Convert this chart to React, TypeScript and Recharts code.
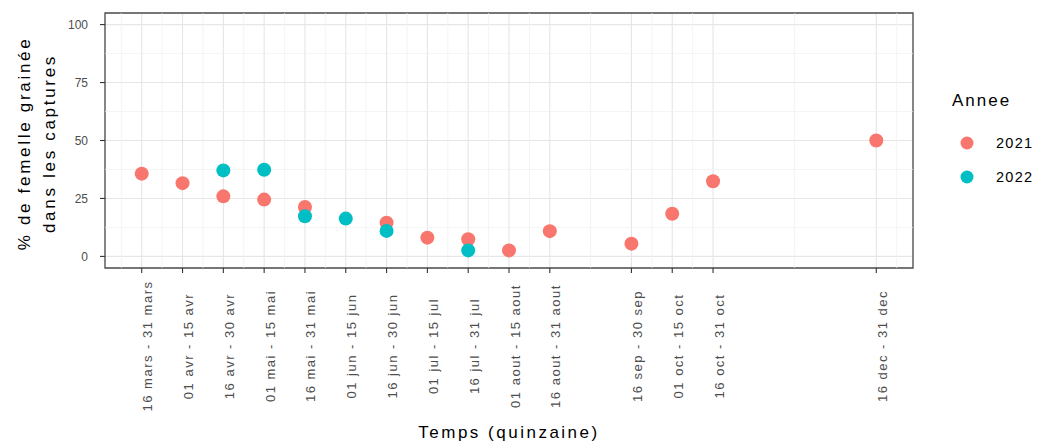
import React from 'react';
import {
  ScatterChart,
  Scatter,
  XAxis,
  YAxis,
  CartesianGrid,
  ReferenceLine,
  ReferenceArea,
  Legend,
  Label,
} from 'recharts';

// All fortnights of the season (x position = index in this list)
const fortnights = [
  '16 mars - 31 mars',
  '01 avr - 15 avr',
  '16 avr - 30 avr',
  '01 mai - 15 mai',
  '16 mai - 31 mai',
  '01 jun - 15 jun',
  '16 jun - 30 jun',
  '01 jul - 15 jul',
  '16 jul - 31 jul',
  '01 aout - 15 aout',
  '16 aout - 31 aout',
  '01 sep - 15 sep',
  '16 sep - 30 sep',
  '01 oct - 15 oct',
  '16 oct - 31 oct',
  '01 nov - 15 nov',
  '16 nov - 30 nov',
  '01 dec - 15 dec',
  '16 dec - 31 dec',
];

const periods2021 = [
  '16 mars - 31 mars',
  '01 avr - 15 avr',
  '16 avr - 30 avr',
  '01 mai - 15 mai',
  '16 mai - 31 mai',
  '16 jun - 30 jun',
  '01 jul - 15 jul',
  '16 jul - 31 jul',
  '01 aout - 15 aout',
  '16 aout - 31 aout',
  '16 sep - 30 sep',
  '01 oct - 15 oct',
  '16 oct - 31 oct',
  '16 dec - 31 dec',
];
const values2021 = [35.7, 31.6, 25.9, 24.5, 21.3, 14.5, 8.1, 7.4, 2.6, 10.9, 5.5, 18.4, 32.4, 50.0];

const periods2022 = [
  '16 avr - 30 avr',
  '01 mai - 15 mai',
  '16 mai - 31 mai',
  '01 jun - 15 jun',
  '16 jun - 30 jun',
  '16 jul - 31 jul',
];
const values2022 = [37.1, 37.4, 17.3, 16.3, 11.0, 2.6];

const years = ['2021', '2022'];
const yearColors = ['#F8766D', '#00BFC4'];

const yTicks = [0, 25, 50, 75, 100];
const yMinor = [12.5, 37.5, 62.5, 87.5];
const yDomain: [number, number] = [-5, 105];

const FONT = '"Liberation Sans", Arial, Helvetica, sans-serif';

const toPoints = (periods: string[], values: number[]) =>
  periods.map((p, i) => ({ x: fortnights.indexOf(p), y: values[i], label: p }));

const data2021 = toPoints(periods2021, values2021);
const data2022 = toPoints(periods2022, values2022);

const xTicks = Array.from(new Set([...data2021, ...data2022].map((d) => d.x))).sort((a, b) => a - b);
const xSpan = xTicks[xTicks.length - 1] - xTicks[0];
const xDomain: [number, number] = [xTicks[0] - 0.05 * xSpan, xTicks[xTicks.length - 1] + 0.05 * xSpan];

// ggplot-like minor breaks (midpoints between majors, extended by the first step)
const xMinor = (() => {
  const step = xTicks[1] - xTicks[0];
  const b = [xTicks[0] - step, ...xTicks, xTicks[xTicks.length - 1] + step];
  const m: number[] = [];
  for (let i = 0; i < b.length - 1; i++) m.push((b[i] + b[i + 1]) / 2);
  return m.filter((v) => v > xDomain[0] && v < xDomain[1]);
})();

const XTick = (props: any) => {
  const { x, y, payload } = props;
  const label = fortnights[payload.value] ?? '';
  return (
    <text
      transform={`translate(${x + 10.5},${y + 71}) rotate(-90)`}
      textAnchor="middle"
      fontFamily={FONT}
      fontSize={13}
      letterSpacing={1.5}
      fill="#4D4D4D"
    >
      {label}
    </text>
  );
};

const YTick = (props: any) => {
  const { x, y, payload } = props;
  return (
    <text
      x={x}
      y={y}
      dy="0.36em"
      textAnchor="end"
      fontFamily={FONT}
      fontSize={12}
      fill="#4D4D4D"
    >
      {payload.value}
    </text>
  );
};

const XTitle = (props: any) => {
  const { x, y, width } = props.viewBox;
  return (
    <text
      x={x + width / 2}
      y={y + 170}
      textAnchor="middle"
      fontFamily={FONT}
      fontSize={17}
      letterSpacing={2.5}
      fill="#000"
    >
      Temps (quinzaine)
    </text>
  );
};

const YTitle = (props: any) => {
  const { y, height } = props.viewBox;
  const cy = y + height / 2 + 3;
  return (
    <g>
      <text
        transform={`translate(22,${cy}) rotate(-90)`}
        textAnchor="middle"
        fontFamily={FONT}
        fontSize={17}
        letterSpacing={2.7}
        fill="#000"
      >
        % de femelle grainée
      </text>
      <text
        transform={`translate(47,${cy}) rotate(-90)`}
        textAnchor="middle"
        fontFamily={FONT}
        fontSize={17}
        letterSpacing={2.7}
        fill="#000"
      >
        dans les captures
      </text>
    </g>
  );
};

const LegendContent = (props: any) => {
  const items = (props.payload || []) as any[];
  return (
    <svg width={95} height={110} style={{ overflow: 'visible' }}>
      <text x={0} y={20} fontFamily={FONT} fontSize={17} letterSpacing={2} fill="#000">
        Annee
      </text>
      {items.map((it, i) => (
        <g key={it.value}>
          <circle cx={15} cy={57 + i * 34} r={6.5} fill={it.color} />
          <text
            x={44}
            y={57 + i * 34}
            dy="0.36em"
            fontFamily={FONT}
            fontSize={14.5}
            letterSpacing={1.3}
            fill="#000"
          >
            {it.value}
          </text>
        </g>
      ))}
    </svg>
  );
};

const Dot = (color: string) => (props: any) => (
  <circle cx={props.cx} cy={props.cy} r={7} fill={color} />
);

export default function App() {
  return (
    <div style={{ width: 1027, height: 438, position: 'relative' }}>
      <ScatterChart
        width={1027}
        height={438}
        margin={{ top: 5, right: 27, bottom: 18, left: 0 }}
      >
        <CartesianGrid stroke="#E6E6E6" strokeWidth={1.1} />
        {xMinor.map((v) => (
          <ReferenceLine key={'xm' + v} x={v} stroke="#EFEFEF" strokeWidth={0.7} />
        ))}
        {yMinor.map((v) => (
          <ReferenceLine key={'ym' + v} y={v} stroke="#EFEFEF" strokeWidth={0.7} />
        ))}
        <XAxis
          type="number"
          dataKey="x"
          domain={xDomain}
          ticks={xTicks}
          interval={0}
          allowDataOverflow
          height={160}
          axisLine={false}
          tickLine={{ stroke: '#333333', strokeWidth: 1.1 }}
          tickSize={5}
          tick={<XTick />}
        >
          <Label content={<XTitle />} />
        </XAxis>
        <YAxis
          type="number"
          dataKey="y"
          domain={yDomain}
          ticks={yTicks}
          interval={0}
          allowDataOverflow
          width={97}
          axisLine={false}
          tickLine={{ stroke: '#333333', strokeWidth: 1.1 }}
          tickSize={5}
          tickMargin={12}
          tick={<YTick />}
        >
          <Label content={<YTitle />} />
        </YAxis>
        <ReferenceArea
          x1={xDomain[0]}
          x2={xDomain[1]}
          y1={yDomain[0]}
          y2={yDomain[1]}
          fill="none"
          stroke="#4D4D4D"
          strokeWidth={1.3}
        />
        <Scatter
          name={years[0]}
          data={data2021}
          fill={yearColors[0]}
          shape={Dot(yearColors[0])}
          isAnimationActive={false}
        />
        <Scatter
          name={years[1]}
          data={data2022}
          fill={yearColors[1]}
          shape={Dot(yearColors[1])}
          isAnimationActive={false}
        />
        <Legend
          layout="vertical"
          verticalAlign="top"
          align="right"
          content={<LegendContent />}
          wrapperStyle={{ position: 'absolute', left: 944, top: 78, width: 95, height: 110 }}
        />
      </ScatterChart>
    </div>
  );
}
